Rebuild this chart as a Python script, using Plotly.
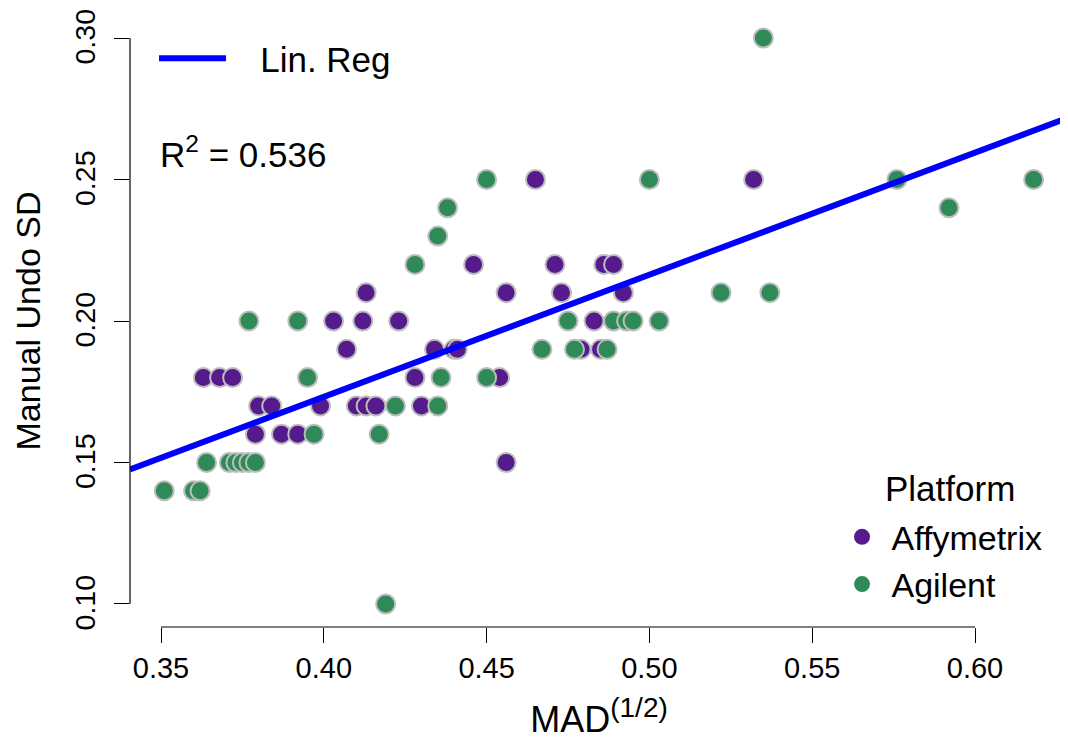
import numpy as np
import plotly.graph_objects as go

# ---- data ----
affy_x = [0.465, 0.532, 0.446, 0.471, 0.486, 0.489, 0.413, 0.456, 0.473, 0.492,
          0.403, 0.412, 0.423, 0.483, 0.407, 0.434, 0.440, 0.441, 0.479, 0.485,
          0.363, 0.368, 0.372, 0.428, 0.380, 0.384, 0.399, 0.410, 0.413, 0.416,
          0.430, 0.379, 0.387, 0.392, 0.456, 0.454]
affy_y = [0.25, 0.25, 0.22, 0.22, 0.22, 0.22, 0.21, 0.21, 0.21, 0.21,
          0.20, 0.20, 0.20, 0.20, 0.19, 0.19, 0.19, 0.19, 0.19, 0.19,
          0.18, 0.18, 0.18, 0.18, 0.17, 0.17, 0.17, 0.17, 0.17, 0.17,
          0.17, 0.16, 0.16, 0.16, 0.15, 0.18]

agil_x = [0.535, 0.450, 0.500, 0.576, 0.618, 0.438, 0.592, 0.435, 0.428, 0.522,
          0.537, 0.377, 0.392, 0.475, 0.489, 0.493, 0.495, 0.503, 0.467, 0.477,
          0.487, 0.395, 0.436, 0.450, 0.422, 0.435, 0.397, 0.417, 0.364, 0.371,
          0.373, 0.375, 0.377, 0.379, 0.351, 0.360, 0.362, 0.419]
agil_y = [0.30, 0.25, 0.25, 0.25, 0.25, 0.24, 0.24, 0.23, 0.22, 0.21,
          0.21, 0.20, 0.20, 0.20, 0.20, 0.20, 0.20, 0.20, 0.19, 0.19,
          0.19, 0.18, 0.18, 0.18, 0.17, 0.17, 0.16, 0.16, 0.15, 0.15,
          0.15, 0.15, 0.15, 0.15, 0.14, 0.14, 0.14, 0.10]

platforms = ["Affymetrix", "Agilent"]
platform_colors = ["#551A8B", "#2E8B57"]
# fitted line as drawn in the reference (coefficients)
reg_intercept = 0.00066
reg_slope = 0.4314
r2_label = "0.536"
x_ticks = [0.35, 0.40, 0.45, 0.50, 0.55, 0.60]
y_ticks = [0.10, 0.15, 0.20, 0.25, 0.30]

FONT = "Liberation Sans, Arial, Helvetica, sans-serif"

x_range = [0.34048, 0.62856]
y_range = [0.09187, 0.30813]

# the page body adds an 8px offset; the figure is sized so that the plot area lands
# at the same place as in the reference
W, H = 1060, 734
ML, MT = 122, 7
PW, PH = 938, 612

fig = go.Figure()

# points
for xs, ys, col in [(affy_x, affy_y, platform_colors[0]), (agil_x, agil_y, platform_colors[1])]:
    fig.add_trace(go.Scatter(
        x=xs, y=ys, mode="markers", showlegend=False, cliponaxis=False,
        marker=dict(size=19, color=col, line=dict(color="#BDBDBD", width=2)),
    ))

# regression line
lx = np.array(x_range)
fig.add_trace(go.Scatter(
    x=lx, y=reg_intercept + reg_slope * lx, mode="lines", name="&nbsp;&nbsp;&nbsp;Lin. Reg",
    line=dict(color="#0000FF", width=6), legend="legend",
))

# legend entries for platforms
for name, col in zip(platforms, platform_colors):
    fig.add_trace(go.Scatter(
        x=[None], y=[None], mode="markers", name="&nbsp;" + name, legend="legend2",
        marker=dict(size=17, color=col),
    ))

fig.add_annotation(
    xref="paper", yref="paper", x=0.030, y=0.776, xanchor="left", yanchor="middle",
    text="R<sup>2</sup> = " + r2_label, showarrow=False,
    font=dict(family=FONT, size=35, color="black"),
)
fig.add_annotation(
    xref="paper", yref="paper", x=(950 - 130) / PW, y=(627 - 488) / PH,
    xanchor="center", yanchor="middle", text="Platform", showarrow=False,
    font=dict(family=FONT, size=35, color="black"),
)

# axis lines spanning first to last tick (R style)
fig.add_shape(type="line", xref="x", yref="paper", x0=x_ticks[0], x1=x_ticks[-1], y0=0, y1=0,
              line=dict(color="black", width=1.2))
fig.add_shape(type="line", xref="paper", yref="y", x0=0, x1=0, y0=y_ticks[0], y1=y_ticks[-1],
              line=dict(color="black", width=1.2))

fig.update_layout(
    width=W, height=H,
    margin=dict(l=ML, r=W - ML - PW, t=MT, b=H - MT - PH, autoexpand=False),
    paper_bgcolor="white", plot_bgcolor="white",
    font=dict(family=FONT, color="black"),
    xaxis=dict(
        range=x_range, showgrid=False, zeroline=False, showline=False, automargin=False,
        tickmode="array", tickvals=x_ticks, ticktext=[f"{v:.2f}" for v in x_ticks],
        ticks="outside", ticklen=15, tickwidth=1.2, tickcolor="black",
        tickfont=dict(size=29), ticklabelstandoff=0, ticklabeloverflow="allow",
        title=dict(text="MAD<sup><span style='font-size:28px'>(1/2)</span></sup>",
                   font=dict(size=36), standoff=24),
    ),
    yaxis=dict(
        range=y_range, showgrid=False, zeroline=False, showline=False, automargin=False,
        tickmode="array", tickvals=y_ticks, ticktext=[f"{v:.2f}" for v in y_ticks],
        ticks="outside", ticklen=15, tickwidth=1.2, tickcolor="black",
        tickfont=dict(size=28.5), tickangle=-90, ticklabelstandoff=8,
        ticklabelshift=3, ticklabeloverflow="allow",
        title=dict(text="Manual Undo SD", font=dict(size=34), standoff=17),
    ),
    legend=dict(
        x=0.0256, y=0.977, xanchor="left", yanchor="top", bgcolor="rgba(0,0,0,0)",
        font=dict(size=35), itemwidth=67,
    ),
    legend2=dict(
        x=0.7591, y=0.194, xanchor="left", yanchor="top", bgcolor="rgba(0,0,0,0)",
        font=dict(size=34),
    ),
)

fig.write_html("out.html")
